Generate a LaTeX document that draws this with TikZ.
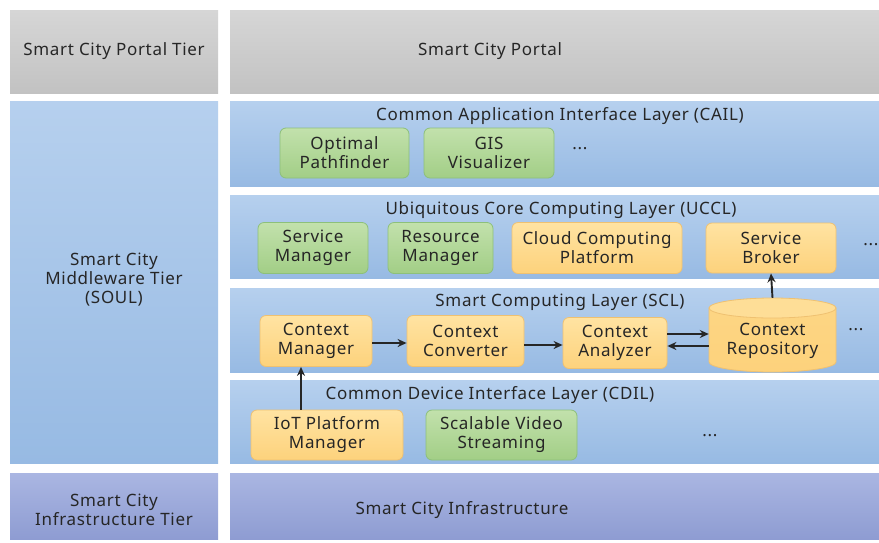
\documentclass[tikz,border=0pt]{standalone}
\usepackage{fontspec}
\setmainfont{Noto Sans}[LetterSpace=4]
\usetikzlibrary{arrows.meta}
\definecolor{txt}{HTML}{262626}
\definecolor{grayT}{HTML}{D6D6D6}
\definecolor{grayB}{HTML}{C2C2C2}
\definecolor{blueT}{HTML}{B6D0EE}
\definecolor{blueB}{HTML}{97BAE3}
\definecolor{infT}{HTML}{AAB6E2}
\definecolor{infB}{HTML}{8E9CD2}
\definecolor{grnT}{HTML}{C2E1AC}
\definecolor{grnB}{HTML}{A2CE86}
\definecolor{grnD}{HTML}{8DC07A}
\definecolor{orT}{HTML}{FFE3A2}
\definecolor{orB}{HTML}{FDD27C}
\definecolor{orD}{HTML}{EFC171}
\tikzset{
  every node/.style={text=txt, font=\fontsize{17}{19}\selectfont},
  graybox/.style={rectangle, anchor=north west, top color=grayT, bottom color=grayB, inner sep=0pt},
  bluebox/.style={rectangle, anchor=north west, top color=blueT, bottom color=blueB, inner sep=0pt},
  infbox/.style={rectangle, anchor=north west, top color=infT, bottom color=infB, inner sep=0pt},
  grnbox/.style={rectangle, rounded corners=6pt, draw=grnD, line width=0.8pt, top color=grnT, bottom color=grnB, align=center, inner sep=0pt},
  orbox/.style={rectangle, rounded corners=6pt, draw=orD, line width=0.8pt, top color=orT, bottom color=orB, align=center, inner sep=0pt},
  lbl/.style={align=center, inner sep=0pt},
  conn/.style={-{Stealth[length=9pt,width=8pt]}, line width=1.9pt, draw=black!85},
  cylbody/.style={top color=orB!80!orT, bottom color=orB, draw=orD, line width=0.8pt},
  cyltop/.style={fill=orT!70!orB, draw=orD, line width=0.8pt},
}
\begin{document}
\begin{tikzpicture}[x=1pt,y=-1pt]
\useasboundingbox[fill=white] (0,0) rectangle (879,542);
% left column
\node[graybox, minimum width=208pt, minimum height=83pt] (lportal) at (10,10) {};
\node[bluebox, minimum width=208pt, minimum height=362pt] (lmid) at (10,101) {};
\node[infbox, minimum width=208pt, minimum height=66pt] (linf) at (10,473) {};
\node[lbl] (tportal) at (114,51) {Smart City Portal Tier};
\node[lbl] (tmid) at (114,280) {Smart City\\Middleware Tier\\(SOUL)};
\node[lbl] (tinf) at (114,510) {Smart City\\Infrastructure Tier};
% right column
\node[graybox, minimum width=649pt, minimum height=83pt] (portal) at (230,10) {};
\node[bluebox, minimum width=649pt, minimum height=85pt] (cail) at (230,101) {};
\node[bluebox, minimum width=649pt, minimum height=83pt] (uccl) at (230,195) {};
\node[bluebox, minimum width=649pt, minimum height=84pt] (scl) at (230,288) {};
\node[bluebox, minimum width=649pt, minimum height=83pt] (cdil) at (230,380) {};
\node[infbox, minimum width=649pt, minimum height=66pt] (inf) at (230,473) {};
\node[lbl] (tp) at (490,51) {Smart City Portal};
\node[lbl] (tcail) at (560,116) {Common Application Interface Layer (CAIL)};
\node[lbl] (tuccl) at (561,210) {Ubiquitous Core Computing Layer (UCCL)};
\node[lbl] (tscl) at (560,302) {Smart Computing Layer (SCL)};
\node[lbl] (tcdil) at (490,395) {Common Device Interface Layer (CDIL)};
\node[lbl] (ti) at (462,510) {Smart City Infrastructure};
% CAIL
\node[grnbox, minimum width=129pt, minimum height=50pt] (op) at (344.5,153) {Optimal\\Pathfinder};
\node[grnbox, minimum width=130pt, minimum height=50pt] (gis) at (489,153) {GIS\\Visualizer};
\node[lbl] (d1) at (580,149) {...};
% UCCL
\node[grnbox, minimum width=110pt, minimum height=51pt] (sm) at (313,248) {Service\\Manager};
\node[grnbox, minimum width=105pt, minimum height=51pt] (rm) at (440.5,248) {Resource\\Manager};
\node[orbox, minimum width=170pt, minimum height=51pt] (ccp) at (597,248) {Cloud Computing\\Platform};
\node[orbox, minimum width=130pt, minimum height=50pt] (sb) at (771,248) {Service\\Broker};
\node[lbl] (d2) at (871,245) {...};
% SCL
\node[orbox, minimum width=112pt, minimum height=51pt] (cm) at (316,341) {Context\\Manager};
\node[orbox, minimum width=117pt, minimum height=51pt] (cc) at (465.5,341) {Context\\Converter};
\node[orbox, minimum width=104pt, minimum height=51pt] (ca) at (615,343) {Context\\Analyzer};
% cylinder (Context Repository)
\path[cylbody] (709,308) -- (709,362) arc[start angle=180, end angle=360, x radius=63.5pt, y radius=10pt] -- (836,308) -- cycle;
\path[cyltop] (772.5,308) ellipse [x radius=63.5pt, y radius=10pt];
\node[rectangle, minimum width=127pt, minimum height=74pt, inner sep=0pt] (cr) at (772.5,335) {};
\node[lbl] (crt) at (772.5,341) {Context\\Repository};
\node[lbl] (d3) at (856,330) {...};
% CDIL
\node[orbox, minimum width=152pt, minimum height=50pt] (iot) at (327,435) {IoT Platform\\Manager};
\node[grnbox, minimum width=151pt, minimum height=50pt] (svs) at (501.5,435) {Scalable Video\\Streaming};
\node[lbl] (d4) at (710,436) {...};
% connectors
\draw[conn] (cm.east |- 0,343) -- (cc.west |- 0,343);
\draw[conn] (cc.east |- 0,345) -- (ca.west |- 0,345);
\draw[conn] (ca.east |- 0,334) -- (cr.west |- 0,334);
\draw[conn] (cr.west |- 0,346) -- (ca.east |- 0,346);
\draw[conn] (cr.north) -- (sb.south);
\draw[conn] (iot.north -| 301,0) -- (cm.south -| 301,0);
\end{tikzpicture}
\end{document}
